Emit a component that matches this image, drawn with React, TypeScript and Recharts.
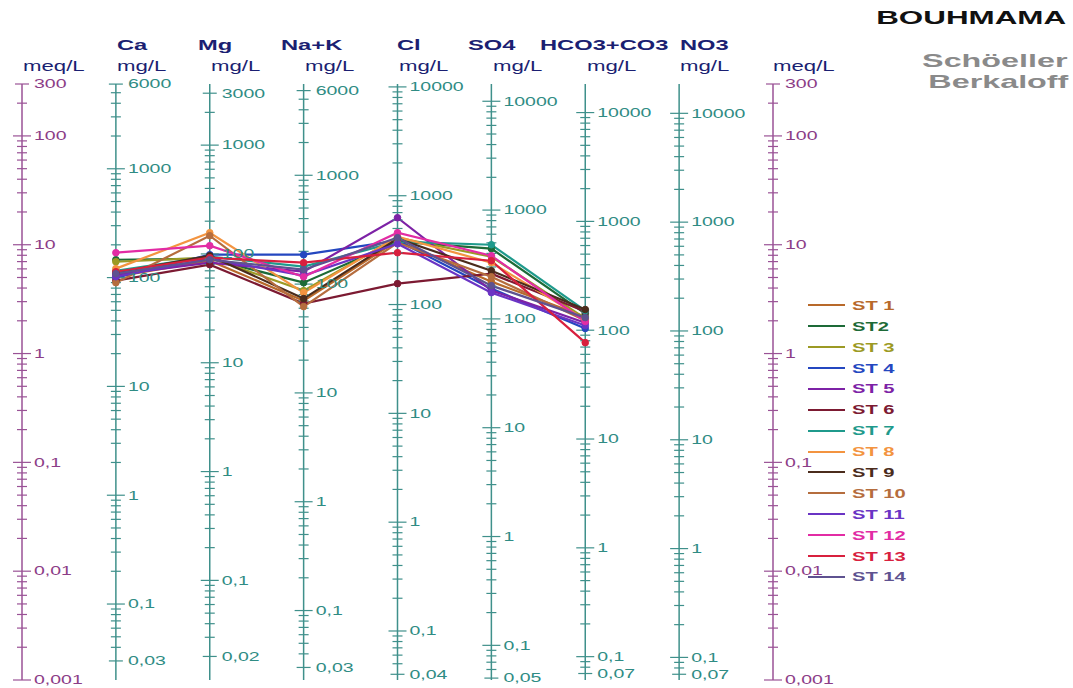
import React from 'react';
import { ComposedChart, Line, Scatter, XAxis, YAxis, ReferenceLine, Legend } from 'recharts';

const FONT = '"Liberation Sans", Arial, Helvetica, sans-serif';
const NAVY = '#1b1f72';
const TEAL = '#3f908b';
const TEAL_TEXT = '#2f8c84';
const PLUM = '#9a5296';
const PLUM_TEXT = '#8c3d87';

// ion columns sit at x = 1..7, the two meq/L scales at 0 and 8
const IONS = ['Ca', 'Mg', 'Na+K', 'Cl', 'SO4', 'HCO3+CO3', 'NO3'];
const ION_LEFT = [117, 198, 281, 397, 468, 540, 680];
const EQ_WEIGHTS = [20.04, 12.15, 23.0, 35.45, 48.03, 61.02, 62.0];
const MG_MIN = [0.03, 0.02, 0.03, 0.04, 0.05, 0.07, 0.07];
const MG_MAX = [6000, 3000, 6000, 10000, 10000, 10000, 10000];
const MG_LABELS = [
  [6000, 1000, 100, 10, 1, 0.1, 0.03],
  [3000, 1000, 100, 10, 1, 0.1, 0.02],
  [6000, 1000, 100, 10, 1, 0.1, 0.03],
  [10000, 1000, 100, 10, 1, 0.1, 0.04],
  [10000, 1000, 100, 10, 1, 0.1, 0.05],
  [10000, 1000, 100, 10, 1, 0.1, 0.07],
  [10000, 1000, 100, 10, 1, 0.1, 0.07],
];
const MEQ_LABELS = [300, 100, 10, 1, 0.1, 0.01, 0.001];

const STATIONS = ['ST 1', 'ST2', 'ST 3', 'ST 4', 'ST 5', 'ST 6', 'ST 7', 'ST 8', 'ST 9', 'ST 10', 'ST 11', 'ST 12', 'ST 13', 'ST 14'];
const COLORS = ['#b8692a', '#1d6a37', '#9c9a24', '#2447c0', '#7d22a6', '#7c1a32', '#1f9a8c', '#f39440', '#4b2c1c', '#b56d3e', '#6a34c4', '#e22ca4', '#d8203e', '#5e5290'];

// meq/L per station
const CA = [5.08, 7.28, 6.98, 4.98, 5.31, 4.68, 5.77, 6.03, 5.53, 4.48, 5.08, 8.45, 5.65, 5.42];
const MG = [7.13, 7.44, 7.6, 8.1, 6.84, 6.56, 7.76, 12.9, 7.93, 12.1, 7.44, 9.8, 7.6, 7.28];
const NAK = [3.06, 4.48, 3.79, 8.1, 5.65, 2.88, 6.29, 3.63, 3.2, 2.7, 5.2, 5.08, 6.84, 5.9];
const CL = [10.9, 10.67, 11.6, 10.9, 17.7, 4.39, 10.67, 11.84, 11.35, 10.43, 10.2, 12.9, 8.45, 11.6];
const SO4 = [4.58, 9.2, 7.76, 3.95, 3.79, 5.42, 10.0, 6.84, 5.77, 5.08, 3.63, 7.93, 7.13, 4.21];
const HCO3 = [2.18, 2.33, 2.1, 1.7, 1.92, 2.43, 2.48, 2.05, 2.54, 2.01, 1.81, 1.97, 1.26, 2.14];

const fmt = (v: number) => String(v).replace('.', ',');

type Tick = { x: number; y: number; half: number; text: string; color: string; line: string };

function buildTicks(axis: number, min: number, max: number, eq: number, labels: number[], line: string, color: string): Tick[] {
  const out: Tick[] = [];
  const n0 = Math.floor(Math.log10(min));
  const n1 = Math.ceil(Math.log10(max));
  for (let n = n0; n <= n1; n++) {
    for (let k = 1; k <= 9; k++) {
      const v = Number((k * Math.pow(10, n)).toPrecision(6));
      if (v < min * 0.999 || v > max * 1.001) continue;
      const labelled = labels.some((l) => Math.abs(l - v) < v * 1e-6);
      out.push({
        x: axis,
        y: v / eq,
        half: k === 1 ? 9 : labelled ? 7 : 5,
        text: labelled ? fmt(v) : '',
        color,
        line,
      });
    }
  }
  return out;
}

const ticks: Tick[] = [
  ...buildTicks(0, 0.001, 300, 1, MEQ_LABELS, PLUM, PLUM_TEXT),
  ...buildTicks(8, 0.001, 300, 1, MEQ_LABELS, PLUM, PLUM_TEXT),
  ...IONS.flatMap((_, i) => buildTicks(i + 1, MG_MIN[i], MG_MAX[i], EQ_WEIGHTS[i], MG_LABELS[i], TEAL, TEAL_TEXT)),
];

const series = STATIONS.map((name, i) => ({
  name,
  color: COLORS[i],
  data: [CA[i], MG[i], NAK[i], CL[i], SO4[i], HCO3[i]].map((y, j) => ({ x: j + 1, y })),
}));

const TickShape = (props: any) => {
  const { cx, cy, payload } = props;
  return (
    <g>
      <line x1={cx - payload.half} x2={cx + payload.half} y1={cy} y2={cy} stroke={payload.line} strokeWidth={1.2} />
      {payload.text && (
        <text
          transform={`translate(${cx + 12},${cy}) scale(1.5,1)`}
          dominantBaseline="central"
          fontSize={13}
          fontFamily={FONT}
          fill={payload.color}
        >
          {payload.text}
        </text>
      )}
    </g>
  );
};

const Txt = ({ x, y, size, bold, color, right, scale = 1.5, children }: any) => (
  <div
    style={{
      position: 'absolute',
      top: y - size * 0.6,
      ...(right ? { right: 1073 - x } : { left: x }),
      fontSize: size,
      lineHeight: 1.2,
      fontWeight: bold ? 700 : 400,
      color,
      whiteSpace: 'nowrap',
      transform: `scaleX(${scale})`,
      transformOrigin: right ? 'right center' : 'left center',
    }}
  >
    {children}
  </div>
);

const StationLegend = (props: any) => {
  const items = [...(props.payload || [])].sort(
    (a: any, b: any) => STATIONS.indexOf(a.value) - STATIONS.indexOf(b.value)
  );
  return (
    <div style={{ fontFamily: FONT }}>
      {items.map((p: any) => (
        <div key={p.value} style={{ display: 'flex', alignItems: 'center', height: 20.9 }}>
          <div style={{ width: 37, height: 2, background: p.color, marginRight: 7 }} />
          <div style={{ fontSize: 13, fontWeight: 700, color: p.color, transform: 'scaleX(1.55)', transformOrigin: 'left center', whiteSpace: 'nowrap' }}>
            {p.value}
          </div>
        </div>
      ))}
    </div>
  );
};

export default function App() {
  return (
    <div style={{ position: 'absolute', left: 0, top: 0, width: 1073, height: 688, background: '#fff', fontFamily: FONT }}>
      <ComposedChart width={1073} height={688} margin={{ top: 84, right: 300, bottom: 8, left: 22 }}>
        <XAxis type="number" dataKey="x" domain={[0, 8]} hide />
        <YAxis type="number" dataKey="y" scale="log" domain={[0.001, 300]} hide />
        {[0, 1, 2, 3, 4, 5, 6, 7, 8].map((i) => (
          <ReferenceLine key={i} x={i} stroke={i === 0 || i === 8 ? PLUM : TEAL} strokeWidth={1.5} />
        ))}
        <Scatter data={ticks} shape={TickShape} legendType="none" isAnimationActive={false} />
        {series.map((s) => (
          <Line
            key={s.name}
            name={s.name}
            data={s.data}
            dataKey="y"
            stroke={s.color}
            strokeWidth={2.2}
            dot={{ r: 3.3, fill: s.color, stroke: s.color, strokeWidth: 1 }}
            activeDot={false}
            isAnimationActive={false}
          />
        ))}
        <Legend
          content={StationLegend}
          layout="horizontal"
          align="center"
          verticalAlign="middle"
          wrapperStyle={{ position: 'absolute', left: 808, top: 274, width: 150 }}
        />
      </ComposedChart>

      <Txt x={1066} y={18} size={19} bold color="#111" right scale={1.65}>BOUHMAMA</Txt>
      <Txt x={1068} y={61} size={19} bold color="#8a8a8a" right scale={1.7}>Schöeller</Txt>
      <Txt x={1068} y={82} size={19} bold color="#8a8a8a" right scale={1.7}>Berkaloff</Txt>

      {IONS.map((ion, i) => (
        <Txt key={ion} x={ION_LEFT[i]} y={45} size={15} bold color={NAVY} scale={1.58}>{ion}</Txt>
      ))}
      <Txt x={23} y={66} size={15} color={NAVY} scale={1.48}>meq/L</Txt>
      <Txt x={773} y={66} size={15} color={NAVY} scale={1.48}>meq/L</Txt>
      {IONS.map((ion, i) => (
        <Txt key={ion + '-u'} x={117 + i * 93.9} y={66} size={15} color={NAVY} scale={1.48}>mg/L</Txt>
      ))}
    </div>
  );
}
